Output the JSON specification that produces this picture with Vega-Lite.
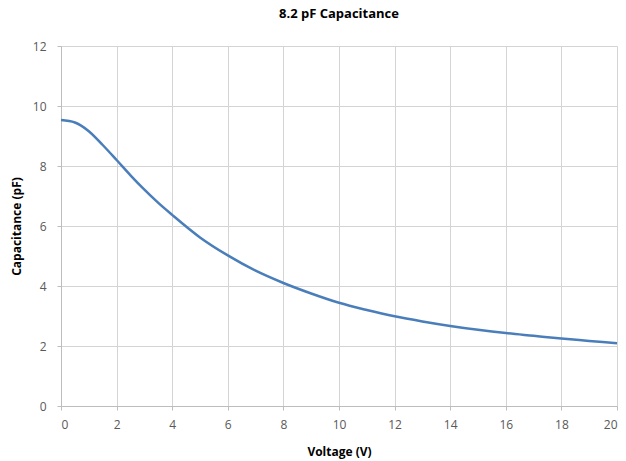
{
  "$schema": "https://vega.github.io/schema/vega-lite/v6.json",
  "autosize": "none",
  "width": 556,
  "height": 360,
  "padding": {"left": 61, "top": 46, "right": 9, "bottom": 55},
  "background": "white",
  "title": {"text": "8.2 pF Capacitance", "font": "Open Sans", "fontSize": 13, "fontWeight": "bold", "color": "#000000", "offset": 19, "anchor": "middle"},
  "data": {"values": [
    {"v": 0, "c": 9.53},
    {"v": 0.5, "c": 9.45},
    {"v": 1, "c": 9.16},
    {"v": 1.5, "c": 8.7},
    {"v": 2, "c": 8.2},
    {"v": 2.5, "c": 7.69},
    {"v": 3, "c": 7.21},
    {"v": 3.5, "c": 6.77},
    {"v": 4, "c": 6.37},
    {"v": 5, "c": 5.62},
    {"v": 6, "c": 5.02},
    {"v": 7, "c": 4.51},
    {"v": 8, "c": 4.1},
    {"v": 9, "c": 3.75},
    {"v": 10, "c": 3.44},
    {"v": 11, "c": 3.2},
    {"v": 12, "c": 2.99},
    {"v": 13, "c": 2.82},
    {"v": 14, "c": 2.67},
    {"v": 15, "c": 2.54},
    {"v": 16, "c": 2.43},
    {"v": 17, "c": 2.34},
    {"v": 18, "c": 2.25},
    {"v": 19, "c": 2.17},
    {"v": 20, "c": 2.09}
  ]},
  "mark": {"type": "line", "color": "#4A7EBB", "strokeWidth": 2.5, "interpolate": "monotone"},
  "encoding": {
    "x": {"field": "v", "type": "quantitative", "scale": {"domain": [0, 20], "nice": false},
      "axis": {"values": [0,2,4,6,8,10,12,14,16,18,20], "title": "Voltage (V)", "titleFont": "Open Sans", "titleFontSize": 12, "titleFontWeight": "bold", "titleColor": "#000", "titlePadding": 16,
        "labelFont": "Open Sans", "labelFontSize": 12, "labelColor": "#595959", "labelPadding": 9,
        "grid": true, "gridColor": "#d4d4d4", "gridWidth": 1, "domainColor": "#bdbdbd", "tickColor": "#bdbdbd", "tickSize": 4}},
    "y": {"field": "c", "type": "quantitative", "scale": {"domain": [0, 12], "nice": false},
      "axis": {"values": [0,2,4,6,8,10,12], "title": "Capacitance (pF)", "titleFont": "Open Sans", "titleFontSize": 12, "titleFontWeight": "bold", "titleColor": "#000", "titlePadding": 9,
        "labelFont": "Open Sans", "labelFontSize": 12, "labelColor": "#595959", "labelPadding": 11,
        "grid": true, "gridColor": "#d4d4d4", "gridWidth": 1, "domainColor": "#bdbdbd", "tickColor": "#bdbdbd", "tickSize": 4}}
  },
  "config": {"view": {"stroke": null}}
}
